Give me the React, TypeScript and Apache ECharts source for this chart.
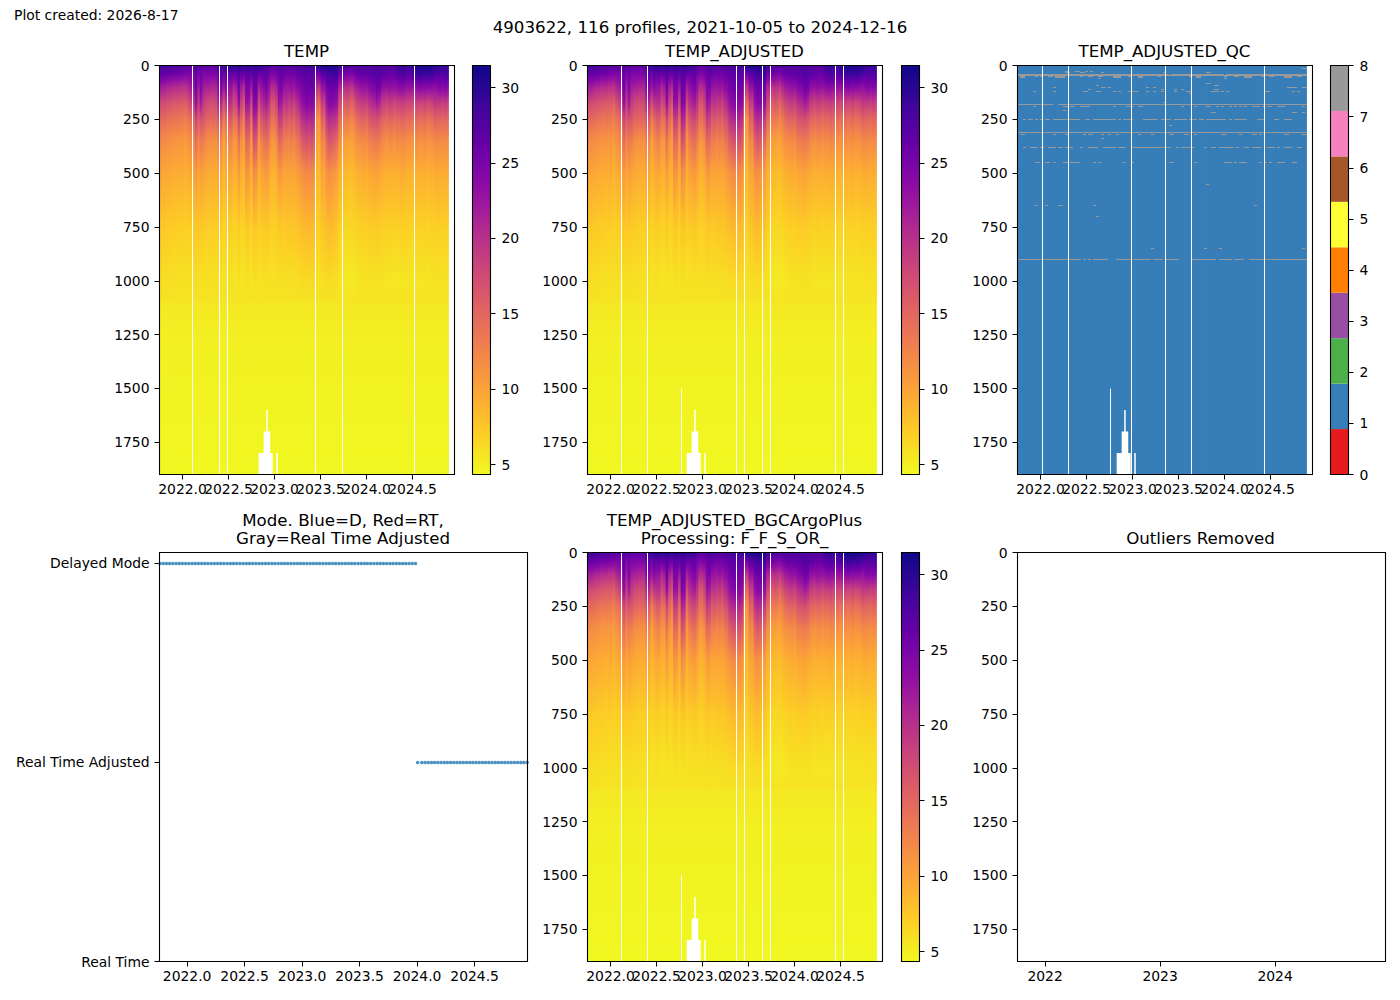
import React, { useEffect, useRef } from "react";
import * as echarts from "echarts";

const FONT = "DejaVu Sans";

// ---- depth levels (dbar) ----
const upperDepths = [0, 40, 100, 175, 250, 350, 500, 750, 1000];
const deepDepths = [1098, 1102, 1250, 1500, 1900];
const deepTemps = [5.7, 5.4, 5.0, 4.7, 4.45];
const depthTicks = [0, 250, 500, 750, 1000, 1250, 1500, 1750];
const tempTicks = [5, 10, 15, 20, 25, 30];
const qcTicks = [0, 1, 2, 3, 4, 5, 6, 7, 8];
const yearTicksHalf = [2022, 2022.5, 2023, 2023.5, 2024, 2024.5];
const yearTicksWhole = [2022, 2023, 2024];
const yearTicksOdd = [2022.5, 2023.5, 2024.5];
const modeLabels = ["Real Time", "Real Time Adjusted", "Delayed Mode"];

// ---- temperature per gridded profile column, one array per depth ----
const temp0 = [
  28.5,29,29,28.5,28.5,28,28,28,27.8,27.5,
  27.5,27.5,27.5,27.5,28.5,27.5,28,27,27,27,
  27,27,27,29,29.5,29.5,30,30.5,30.5,30,
  30,30.5,30,29.5,30,30,29.5,30,30,30,
  29.5,29,29,28.5,27,27,27.5,28,28.5,28,
  28,28,27.5,28,28,28.5,28.5,28.5,29,29,
  29,29,31,31,31,31,31,31,31,31,
  31,28.5,29.5,29,28.5,28,27.5,28,28,28,
  28,28,27.5,27.5,27.5,28,28,28,27.5,27.5,
  27.5,27.5,27.5,28,29,29.5,30,29.5,29,29,
  30,31,31,31,31,31,31,31,30.5,30.5,
  30,30,29.5,29.5,29.5,
];
const temp40 = [
  26.5,26.5,26.5,26,26,25.5,25.5,25.5,25,25,
  24.5,24.5,24.5,24.5,26.5,24.5,25.5,24.5,24.5,24.5,
  24.5,24.5,24.5,26.5,27,25.5,27,26.5,26.5,26,
  26.5,27.5,26.5,26,27,27,26.5,27.5,27.5,26,
  26,26.5,27,25.5,24.5,24.5,25,26,26.5,26,
  25.5,25.5,25.5,25.5,26,26.5,26.5,27,27,27,
  27,26.5,25,25.5,27,27,28,28.5,28.5,29,
  29,25.5,26,25.5,25,25,24.5,25.5,26,26.5,
  26.5,26.5,26.5,27,27,27.5,27.5,27.5,27,27,
  26.5,26.5,26,26.5,27,27.5,28,27.5,27,27,
  28,28.5,29,29.5,29,29,29,29,28.5,28,
  27.5,27.5,27.5,28,28,
];
const temp100 = [
  22,22,21.5,21,21,20.5,20.5,20.5,20,20,
  20,21,22,22.5,25.5,22,24.5,22,21.5,21.5,
  21,21,21,24.5,24.5,22.5,24,23,23,21,
  22,25.5,22,20.5,25,25,22,26,26,21.5,
  23,24,25,23,20.5,20.5,21.5,24.5,25,23,
  22.5,22.5,23,22.5,23.5,24,25,25.5,26,26,
  26,25.5,20,19.5,23,23,25.5,26,26,26,
  25.5,21,21,20,20.5,20,19.5,21,22,22.5,
  23,23,23,24,24.5,25,26,25.5,23.5,23,
  23,23.5,23,23,23.5,24,24,23.5,23,23,
  23,23.5,24,24.5,24,24,24,24,23.5,23,
  24,24.5,24,24.5,24,
];
const temp175 = [
  17.5,17.5,17.2,17,16.8,16.5,16.2,16.2,16.2,16,
  15.5,17,18,18.5,23,19,22,19,18,17.5,
  17.2,17.5,17.5,21,21,17,19.5,20,20,17.5,
  18,23,18.5,16.5,23,22.5,18,24.5,24,17.5,
  20,21,22,20,16.5,16.5,18,22.5,22,19.5,
  20,19,19.5,18.5,20,21,23,23.5,24.5,24,
  24,23.5,15,14.5,19,18.5,23,24,24,23.5,
  23,17.5,17,16,16.5,16,15,16.5,18,18.5,
  19,19,18.5,20,20.5,21,22,21,19,18.5,
  18,19,18.5,18,18.5,18.5,19,18.5,18,18,
  17.5,18,18.5,18,18,18.5,17.5,18,18.5,19.5,
  19,19,18.5,19,18.5,
];
const temp250 = [
  14.5,14.8,14.5,14.2,14,13.8,13.6,13.8,13.5,13.4,
  13,13.8,14.2,14.6,18,16,17,16.5,15.2,15,
  14.8,15,14.8,16.8,16.2,13.2,14.5,16,16.2,14,
  14.2,18,15,13.2,19,18.5,14.2,21,20.5,14,
  16.5,17.5,18,16.8,14.2,14,15.5,19,18.5,16,
  16.5,15.8,16.2,15.5,16.8,17.5,20,20.5,21,20.5,
  20.8,20,11.5,11,15.5,15,19.5,20.5,20,19.8,
  19,14.5,13.8,13.2,13.5,13,12.2,13.5,14.5,15,
  15.5,15.2,15,16.5,16.8,17,17.2,16.5,15.5,15,
  14.8,15.2,15,14.5,15,14.8,15.5,15,14.5,14.8,
  14.2,14.5,14.8,14.2,14.5,14.8,14,14.2,14.6,15.5,
  15.2,15,14.8,15.2,15,
];
const temp350 = [
  12,12,11.8,11.6,11.4,11.2,11,11.2,11,11,
  10.6,11.4,11.8,12,14.5,12.5,13.5,13,12,11.6,
  11.4,11.6,11.4,13,12.5,10.2,11.5,12.5,12.5,11,
  11,14,11.5,10.5,15,14.5,11,17,16,11,
  13,14,14.5,13.2,11.2,11,12,15,14.5,13,
  13,12.5,13,12.5,13.5,14,16,16.5,17,16.5,
  17,16,10,9.5,12.5,12,15.5,16.5,16,15.5,
  14.5,11.5,11,10.5,10.5,10.2,10,10.8,11.5,11.8,
  12,12,11.8,13,13,13.5,13.5,13,12.2,11.8,
  11.5,12,11.8,11.5,12,11.8,12.2,12,11.5,11.5,
  11.2,11.5,11.8,11.4,11.5,11.8,11.2,11.4,11.6,12.2,
  12,12,11.8,12,11.8,
];
const temp500 = [
  10,9.8,9.7,9.6,9.5,9.4,9.3,9.2,9.3,9.4,
  8.8,9.3,9.6,9.8,10.8,9.8,10.3,10,9.6,9.4,
  9.3,9.4,9.3,10,9.8,8.6,9.3,9.8,9.8,9,
  9,10.6,9.2,8.8,11.3,10.8,9,11.8,11.3,9,
  10,10.4,10.8,10,9,8.8,9.4,10.8,10.6,9.8,
  10,9.8,10,9.8,10.3,10.8,11.3,11.8,12,11.8,
  12,11.3,8.6,8.3,10,9.8,11.3,11.6,11.3,10.8,
  10.3,9,8.8,8.6,8.4,8.3,8.2,8.6,9,9.2,
  9.4,9.4,9.2,9.8,9.8,10,10,9.8,9.4,9.2,
  9,9.2,9.2,9,9.2,9.2,9.4,9.2,9,9,
  8.8,9,9.2,9,9,9.2,8.8,9,9,9.4,
  9.4,9.4,9.2,9.4,9.2,
];
const temp750 = [
  7.5,7.5,7.3,7.3,7.2,7.2,7.1,7,7.1,7.1,
  6.9,7,7.1,7.2,7.5,7.3,7.5,7.3,7.1,7.1,
  7,7.1,7,7.2,7.2,6.7,6.9,7.1,7.1,6.7,
  6.7,7.3,6.8,6.7,7.5,7.3,6.7,7.7,7.5,6.9,
  7.2,7.3,7.5,7.3,6.9,6.9,7.1,7.5,7.5,7.3,
  7.5,7.5,7.7,7.5,7.7,7.9,8.2,8.5,8.5,8.3,
  8.5,8.2,7.1,6.9,7.7,7.7,8.2,8.3,8.3,7.9,
  7.7,6.9,6.7,6.6,6.5,6.5,6.4,6.6,6.8,6.9,
  7,7,7,7.2,7.2,7.3,7.3,7.2,7,6.9,
  6.9,7,6.9,6.8,6.9,6.9,7,6.9,6.8,6.8,
  6.7,6.8,6.9,6.8,6.8,6.9,6.7,6.8,6.8,7,
  7,7,6.9,7,6.9,
];
const temp1000 = [
  6.2,6.1,6.1,6,6,5.9,5.9,5.8,5.8,5.9,
  5.8,5.9,5.9,6,6.1,6,6,6,5.9,5.9,
  5.8,5.9,5.8,5.9,5.9,5.6,5.7,5.8,5.8,5.6,
  5.6,5.8,5.6,5.6,5.9,5.8,5.6,6,5.9,5.7,
  5.8,5.9,6,5.9,5.8,5.8,5.8,6,6,5.9,
  5.9,5.9,6,6,6,6.1,6.2,6.3,6.3,6.3,
  6.3,6.2,5.8,5.7,6,6,6.2,6.2,6.1,6,
  6,5.6,5.5,5.4,5.3,5.3,5.2,5.3,5.5,5.6,
  5.7,5.7,5.7,5.8,5.8,5.8,5.8,5.8,5.7,5.6,
  5.6,5.6,5.6,5.5,5.5,5.5,5.6,5.5,5.5,5.5,
  5.4,5.5,5.6,5.6,5.6,5.7,5.6,5.7,5.7,5.8,
  5.8,5.8,5.7,5.8,5.7,
];
const upperTemps = [temp0, temp40, temp100, temp175, temp250, temp350, temp500, temp750, temp1000];

// columns whose profile stops short of the bottom: [column, deepest depth]
const shortColumns = [[39, 1800], [40, 1800], [41, 1700], [42, 1600], [43, 1700], [44, 1800], [46, 1800]];

// missing time slots drawn as thin white lines: years for each panel
const gapsTemp = [2022.114, 2022.397, 2022.484, 2023.451, 2023.734, 2024.527];
const gapsAdjusted = [2022.12, 2022.407, 2023.37, 2023.457, 2023.652, 2023.739, 2024.45, 2024.537];
const gapsQc = [2022.022, 2022.304, 2022.989, 2023.359, 2023.641, 2024.435];
const partialGapAdjusted = [[2022.772, 1500]];
const partialGapQc = [[2022.761, 1500]];

// QC=8 flags: [depth, firstColumn, endColumn, firstColumn, endColumn, ...]
const qcFlagRows = [
  [15, 113, 115],
  [28, 19, 20, 23, 25, 27, 28, 29, 30],
  [32, 33, 34, 58, 59, 75, 77, 19, 21, 25, 27],
  [40, 0, 60, 61, 82, 83, 115],
  [46, 0, 115],
  [50, 1, 3, 7, 8, 9, 10, 12, 14, 15, 19, 25, 26, 28, 30, 32, 34, 38, 41, 44, 45, 48, 50, 56, 57, 68, 69, 71, 73, 82, 83, 86, 88, 90, 93, 97, 98, 100, 102, 106, 109, 111, 113],
  [54, 1, 3, 15, 19, 38, 41, 48, 50, 71, 73, 90, 93, 106, 109],
  [62, 32, 33, 82, 83],
  [85, 75, 77],
  [94, 31, 32, 78, 80],
  [100, 14, 15],
  [103, 33, 35, 36, 37, 51, 52, 54, 55, 107, 109, 109, 111, 113, 115],
  [112, 28, 29, 57, 58, 62, 63, 65, 66, 78, 80],
  [122, 6, 7, 14, 15, 26, 28, 31, 33, 38, 39, 40, 41, 44, 48, 51, 52, 54, 55, 57, 58, 62, 63, 67, 69, 77, 80, 81, 82, 83, 84, 98, 99, 99, 100, 109, 110, 111, 112],
  [130, 68, 69],
  [170, 58, 59],
  [183, 0, 14, 16, 115],
  [192, 6, 7, 18, 20, 21, 23, 25, 29, 38, 39, 43, 46, 48, 50, 65, 66, 70, 71, 75, 77, 79, 80, 81, 82, 84, 85, 86, 87, 88, 89, 90, 91, 93, 96, 97, 98, 99, 101, 103, 106, 113, 114],
  [210, 18, 19],
  [220, 77, 79, 109, 111, 113, 114],
  [252, 2, 3, 4, 6, 7, 8, 9, 10, 11, 13, 14, 23, 23, 25, 27, 29, 30, 39, 40, 41, 42, 46, 50, 56, 57, 61, 62, 67, 68, 71, 72, 74, 75, 81, 81, 83, 84, 85, 86, 88, 88, 91, 95, 98, 102, 104, 106, 109],
  [280, 60, 61],
  [313, 0, 115],
  [322, 1, 3, 14, 15, 19, 20, 26, 27, 28, 30, 33, 34, 36, 37, 39, 40, 48, 49, 53, 54, 60, 62, 66, 68, 70, 71, 81, 83, 88, 89, 93, 95, 96, 97, 106, 108, 113, 115],
  [340, 33, 34],
  [382, 2, 3, 5, 8, 9, 11, 12, 15, 16, 18, 19, 22, 25, 26, 28, 32, 34, 39, 40, 43, 45, 61, 63, 64, 65, 70, 74, 75, 77, 79, 80, 86, 87, 88, 90, 92, 93, 97, 99, 102, 103, 104, 106, 107, 107, 109, 111, 113],
  [452, 7, 9, 11, 13, 14, 15, 18, 20, 21, 23, 23, 25, 30, 31, 32, 33, 42, 43, 45, 46, 60, 62, 70, 71, 82, 85, 86, 87, 88, 91, 96, 97, 98, 99, 100, 101, 103, 106, 109, 111],
  [554, 75, 76],
  [652, 7, 8, 11, 12, 16, 18, 30, 31, 94, 95],
  [703, 31, 32],
  [851, 53, 54, 74, 75, 80, 81, 113, 114],
  [902, 0, 25, 26, 27, 28, 29, 30, 36, 39, 45, 46, 53, 54, 58, 59, 64, 69, 79, 80, 85, 86, 90, 92, 115],
];

// profile dates as decimal years, by data mode
const delayedYears = [
  2021.765,2021.793,2021.821,2021.848,2021.876,2021.904,2021.932,2021.959,2021.987,2022.015,
  2022.043,2022.07,2022.098,2022.126,2022.154,2022.181,2022.209,2022.237,2022.265,2022.292,
  2022.32,2022.348,2022.376,2022.403,2022.431,2022.459,2022.487,2022.515,2022.542,2022.57,
  2022.598,2022.626,2022.653,2022.681,2022.709,2022.737,2022.764,2022.792,2022.82,2022.848,
  2022.875,2022.903,2022.931,2022.959,2022.986,2023.014,2023.042,2023.07,2023.097,2023.125,
  2023.153,2023.181,2023.209,2023.236,2023.264,2023.292,2023.32,2023.347,2023.375,2023.403,
  2023.431,2023.458,2023.486,2023.514,2023.542,2023.569,2023.597,2023.625,2023.653,2023.68,
  2023.708,2023.736,2023.764,2023.791,2023.819,2023.847,2023.875,2023.902,2023.93,2023.958,
  2023.986,
];
const adjustedYears = [
  2024.005,2024.041,2024.069,2024.097,2024.125,2024.152,2024.18,2024.208,2024.236,2024.263,
  2024.291,2024.319,2024.347,2024.374,2024.402,2024.43,2024.458,2024.485,2024.513,2024.541,
  2024.569,2024.596,2024.624,2024.652,2024.68,2024.707,2024.735,2024.763,2024.791,2024.818,
  2024.846,2024.874,2024.902,2024.929,2024.957,
];

const plasmaStops = ["#0d0887", "#41049d", "#6a00a8", "#8f0da4", "#b12a90", "#cc4778", "#e16462", "#f2844b", "#fca636", "#fcce25", "#f0f921"];
const qcColors = ["#e41a1c", "#377eb8", "#4daf4a", "#984ea3", "#ff7f00", "#ffff33", "#a65628", "#f781bf", "#999999"];

const TEMP_MIN = 4.34;
const TEMP_MAX = 31.46;
const COL_START = 2021.75;
const COL_WIDTH = 0.02736;
const COL_COUNT = temp0.length;
const X_MIN = 2021.75;
const X_MAX = 2024.957;

const rgb = (h: string) => [1, 3, 5].map((k) => parseInt(h.slice(k, k + 2), 16));
const plasmaR = (t: number) => {
  const n = Math.min(1, Math.max(0, (t - TEMP_MIN) / (TEMP_MAX - TEMP_MIN)));
  const p = (1 - n) * 10;
  const k = Math.min(9, Math.floor(p));
  const a = rgb(plasmaStops[k]);
  const b = rgb(plasmaStops[k + 1]);
  const f = p - k;
  return `rgb(${a.map((v, j) => Math.round(v + (b[j] - v) * f)).join(",")})`;
};

const maxDepthOf = (col: number) => {
  const s = shortColumns.find((c) => c[0] === col);
  return s ? s[1] : 1900;
};

const columnGradient = (col: number, maxDepth: number) => {
  const ds = [...upperDepths, ...deepDepths];
  const ts = [...upperTemps.map((a) => a[col]), ...deepTemps];
  const stops: { offset: number; color: string }[] = [];
  for (let i = 0; i < ds.length - 1; i++) {
    for (let s = 0; s < 4; s++) {
      const d = ds[i] + ((ds[i + 1] - ds[i]) * s) / 4;
      if (d > maxDepth) continue;
      stops.push({ offset: d / maxDepth, color: plasmaR(ts[i] + ((ts[i + 1] - ts[i]) * s) / 4) });
    }
  }
  stops.push({ offset: 1, color: plasmaR(4.45) });
  return new echarts.graphic.LinearGradient(0, 0, 0, 1, stops);
};

const columnData = Array.from({ length: COL_COUNT }, (_, i) => [
  COL_START + i * COL_WIDTH,
  COL_START + (i + 1) * COL_WIDTH,
  maxDepthOf(i),
  i,
]);

const rectFrom = (api: any, x0: number, y0: number, x1: number, y1: number) => {
  const a = api.coord([x0, y0]);
  const b = api.coord([x1, y1]);
  return { x: a[0], y: a[1], width: b[0] - a[0], height: b[1] - a[1] };
};

// each column overlaps its right neighbour by one pixel so that no seam shows; the last stays exact
const seamWidth = (w: number, col: number) => (col === COL_COUNT - 1 ? w : w + 1);

const heatRender = (_: any, api: any) => {
  const s = rectFrom(api, api.value(0), 0, api.value(1), api.value(2));
  return {
    type: "rect",
    shape: { ...s, width: seamWidth(s.width, api.value(3)) },
    style: { fill: columnGradient(api.value(3), api.value(2)) },
  };
};
const qcColumnRender = (_: any, api: any) => {
  const s = rectFrom(api, api.value(0), 0, api.value(1), api.value(2));
  return { type: "rect", shape: { ...s, width: seamWidth(s.width, api.value(3)) }, style: { fill: qcColors[1] } };
};
const flagRender = (_: any, api: any) => {
  const a = api.coord([COL_START + api.value(0) * COL_WIDTH, api.value(2)]);
  const b = api.coord([COL_START + api.value(1) * COL_WIDTH, api.value(2)]);
  return { type: "rect", shape: { x: Math.round(a[0]), y: Math.floor(a[1]), width: Math.max(1, Math.round(b[0] - a[0])), height: 1 }, style: { fill: qcColors[8] } };
};
const gapRender = (_: any, api: any) => {
  const a = api.coord([api.value(0), api.value(1)]);
  const b = api.coord([api.value(0), 1900]);
  return { type: "rect", shape: { x: Math.floor(a[0]), y: a[1], width: 1, height: b[1] - a[1] }, style: { fill: "#ffffff" } };
};
const colorbarRender = (_: any, api: any) => {
  const s = rectFrom(api, 0, TEMP_MAX, 1, TEMP_MIN);
  const colorStops = plasmaStops.map((_c, i) => ({ offset: i / 10, color: plasmaStops[i] }));
  return { type: "rect", shape: s, style: { fill: new echarts.graphic.LinearGradient(0, 0, 0, 1, colorStops) } };
};
const qcBarRender = (_: any, api: any) => {
  const s = rectFrom(api, 0, api.value(1), 1, api.value(0));
  return { type: "rect", shape: s, style: { fill: qcColors[api.value(2)] } };
};

const LABEL = { color: "#000", fontFamily: FONT, fontSize: 13.9 };
const TICK = { lineStyle: { color: "#000", width: 1 }, length: 5 };
const NO_LINE = { show: false, onZero: false };

type Box = { l: number; t: number; w: number; h: number };
const boxes: Box[] = [
  { l: 159.5, t: 65.5, w: 295, h: 409 },
  { l: 587.5, t: 65.5, w: 295, h: 409 },
  { l: 1017.5, t: 65.5, w: 295, h: 409 },
  { l: 159.5, t: 552.5, w: 368, h: 409 },
  { l: 587.5, t: 552.5, w: 295, h: 409 },
  { l: 1017.5, t: 552.5, w: 368, h: 409 },
];
const barBoxes: Box[] = [
  { l: 472.5, t: 65.5, w: 18, h: 409 },
  { l: 901.5, t: 65.5, w: 18, h: 409 },
  { l: 1330.5, t: 65.5, w: 18, h: 409 },
  { l: 901.5, t: 552.5, w: 18, h: 409 },
];
// narrow panels overlay a second label-only axis, because ECharts drops overlapping labels of one axis
const narrowPanels = [0, 1, 2, 4];

const titles = [
  { text: "TEMP", x: 306.5, y: 42 },
  { text: "TEMP_ADJUSTED", x: 734.5, y: 42 },
  { text: "TEMP_ADJUSTED_QC", x: 1164.5, y: 42 },
  { text: "Mode. Blue=D, Red=RT,\nGray=Real Time Adjusted", x: 343, y: 511 },
  { text: "TEMP_ADJUSTED_BGCArgoPlus\nProcessing: F_F_S_OR_", x: 734.5, y: 511 },
  { text: "Outliers Removed", x: 1200.5, y: 529 },
  { text: "4903622, 116 profiles, 2021-10-05 to 2024-12-16", x: 700, y: 18 },
];

const timeAxis = (i: number, min: number, max: number, ticks: number[], labels: number[], decimals: number) => ({
  type: "value",
  gridIndex: i,
  min,
  max,
  position: "bottom",
  axisLine: NO_LINE,
  splitLine: { show: false },
  axisTick: ticks.length ? { ...TICK, customValues: ticks } : { show: false },
  axisLabel: {
    ...LABEL,
    margin: 7,
    hideOverlap: false,
    showMinLabel: true,
    showMaxLabel: true,
    customValues: labels,
    formatter: (v: number) => v.toFixed(decimals),
  },
});
const depthAxis = (i: number) => ({
  type: "value",
  gridIndex: i,
  min: 0,
  max: 1900,
  inverse: true,
  position: "left",
  axisLine: NO_LINE,
  splitLine: { show: false },
  axisTick: { ...TICK, customValues: depthTicks },
  axisLabel: { ...LABEL, margin: 10, customValues: depthTicks, formatter: (v: number) => String(v) },
});
const barX = (i: number) => ({ type: "value", gridIndex: i, min: 0, max: 1, show: false });
const barY = (i: number, min: number, max: number, ticks: number[]) => ({
  type: "value",
  gridIndex: i,
  min,
  max,
  position: "right",
  axisLine: NO_LINE,
  splitLine: { show: false },
  axisTick: { ...TICK, customValues: ticks },
  axisLabel: { ...LABEL, margin: 11, customValues: ticks, formatter: (v: number) => String(v) },
});

const heatSeries = (axis: number) => ({
  type: "custom",
  xAxisIndex: axis,
  yAxisIndex: axis,
  renderItem: heatRender,
  data: columnData,
  encode: { x: [0, 1], y: 2 },
  silent: true,
});
const gapSeries = (axis: number, years: number[], partial: number[][] = []) => ({
  type: "custom",
  xAxisIndex: axis,
  yAxisIndex: axis,
  renderItem: gapRender,
  data: [...years.map((y) => [y, 0]), ...partial],
  encode: { x: 0, y: 1 },
  silent: true,
  z: 5,
});

const flagData: number[][] = [];
qcFlagRows.forEach((row) => {
  for (let k = 1; k < row.length; k += 2) flagData.push([row[k], row[k + 1], row[0]]);
});
const qcBands = qcColors.map((_, i) => [(i * 8) / 9, ((i + 1) * 8) / 9, i]);

const buildOption = () => ({
  animation: false,
  backgroundColor: "#ffffff",
  title: [
    ...titles.map((t) => ({
      text: t.text,
      left: t.x,
      top: t.y,
      padding: 0,
      textAlign: "center",
      textStyle: { color: "#000", fontFamily: FONT, fontSize: 16.67, fontWeight: "normal", lineHeight: 18.5 },
    })),
    { text: "Plot created: 2026-8-17", left: 14, top: 8, padding: 0, textStyle: { color: "#000", fontFamily: FONT, fontSize: 13.9, fontWeight: "normal" } },
  ],
  grid: [...boxes, ...barBoxes, ...narrowPanels.map((p) => boxes[p])].map((b) => ({
    left: b.l,
    top: b.t,
    width: b.w,
    height: b.h,
    containLabel: false,
  })),
  xAxis: [
    timeAxis(0, X_MIN, X_MAX, yearTicksHalf, yearTicksWhole, 1),
    timeAxis(1, X_MIN, X_MAX, yearTicksHalf, yearTicksWhole, 1),
    timeAxis(2, X_MIN, X_MAX, yearTicksHalf, yearTicksWhole, 1),
    timeAxis(3, 2021.76, 2024.96, yearTicksHalf, yearTicksHalf, 1),
    timeAxis(4, X_MIN, X_MAX, yearTicksHalf, yearTicksWhole, 1),
    timeAxis(5, 2021.76, 2024.96, yearTicksWhole, yearTicksWhole, 0),
    barX(6),
    barX(7),
    barX(8),
    barX(9),
    ...narrowPanels.map((_, k) => timeAxis(10 + k, X_MIN, X_MAX, [], yearTicksOdd, 1)),
  ],
  yAxis: [
    depthAxis(0),
    depthAxis(1),
    depthAxis(2),
    {
      type: "value",
      gridIndex: 3,
      min: 0,
      max: 2.055,
      position: "left",
      axisLine: NO_LINE,
      splitLine: { show: false },
      axisTick: { ...TICK, customValues: [0, 1, 2] },
      axisLabel: { ...LABEL, margin: 10, customValues: [0, 1, 2], formatter: (v: number) => modeLabels[v] ?? "" },
    },
    depthAxis(4),
    depthAxis(5),
    barY(6, TEMP_MIN, TEMP_MAX, tempTicks),
    barY(7, TEMP_MIN, TEMP_MAX, tempTicks),
    barY(8, 0, 8, qcTicks),
    barY(9, TEMP_MIN, TEMP_MAX, tempTicks),
    ...narrowPanels.map((_, k) => ({ type: "value", gridIndex: 10 + k, min: 0, max: 1, show: false })),
  ],
  series: [
    heatSeries(0),
    gapSeries(0, gapsTemp),
    heatSeries(1),
    gapSeries(1, gapsAdjusted, partialGapAdjusted),
    {
      type: "custom",
      xAxisIndex: 2,
      yAxisIndex: 2,
      renderItem: qcColumnRender,
      data: columnData,
      encode: { x: [0, 1], y: 2 },
      silent: true,
    },
    {
      type: "custom",
      xAxisIndex: 2,
      yAxisIndex: 2,
      renderItem: flagRender,
      data: flagData,
      encode: { y: 2 },
      silent: true,
      z: 3,
    },
    gapSeries(2, gapsQc, partialGapQc),
    {
      type: "scatter",
      xAxisIndex: 3,
      yAxisIndex: 3,
      symbolSize: 3.6,
      itemStyle: { color: "#1f77b4" },
      data: delayedYears.map((y) => [y, 2]),
      silent: true,
    },
    {
      type: "scatter",
      xAxisIndex: 3,
      yAxisIndex: 3,
      symbolSize: 3.6,
      itemStyle: { color: "#1f77b4" },
      data: adjustedYears.map((y) => [y, 1]),
      silent: true,
    },
    heatSeries(4),
    gapSeries(4, gapsAdjusted, partialGapAdjusted),
    ...[6, 7, 9].map((a) => ({
      type: "custom",
      xAxisIndex: a,
      yAxisIndex: a,
      renderItem: colorbarRender,
      data: [[0, TEMP_MIN]],
      encode: { x: 0, y: 1 },
      silent: true,
    })),
    {
      type: "custom",
      xAxisIndex: 8,
      yAxisIndex: 8,
      renderItem: qcBarRender,
      data: qcBands,
      encode: { y: [0, 1] },
      silent: true,
    },
  ],
  graphic: [...boxes, ...barBoxes].map((b) => ({
    type: "rect",
    silent: true,
    z: 100,
    shape: { x: b.l, y: b.t, width: b.w, height: b.h },
    style: { fill: "none", stroke: "#000", lineWidth: 1.1 },
  })),
});

export default function App() {
  const ref = useRef<HTMLDivElement>(null);
  useEffect(() => {
    const chart = echarts.init(ref.current!, undefined, { renderer: "svg" });
    chart.setOption(buildOption() as any);
    return () => chart.dispose();
  }, []);
  return <div ref={ref} style={{ position: "fixed", left: 0, top: 0, width: 1400, height: 1000 }} />;
}
